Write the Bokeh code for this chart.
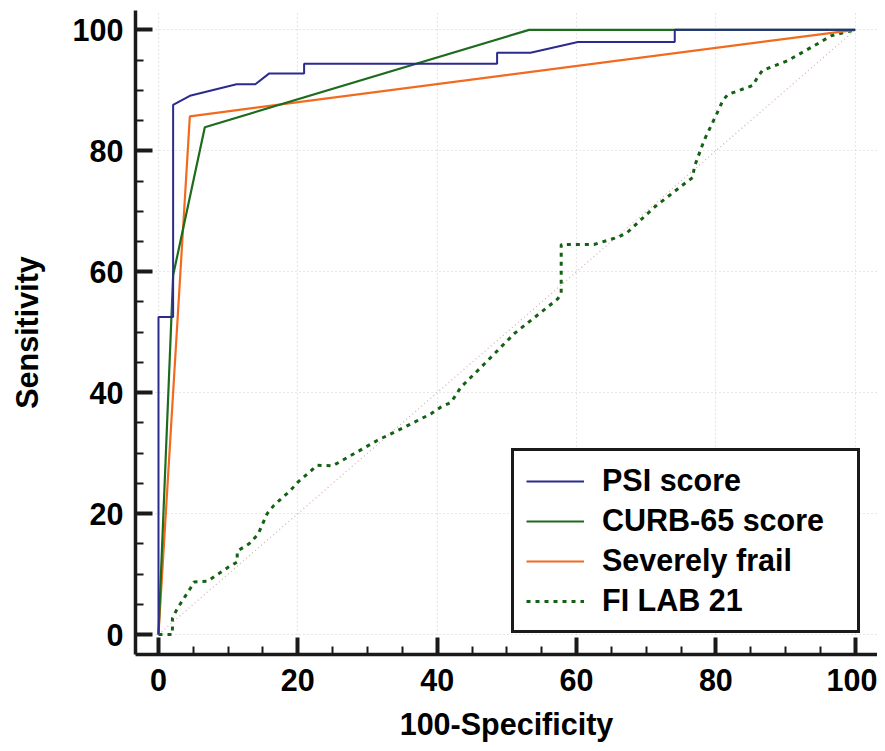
from bokeh.plotting import figure
from bokeh.models import Range1d, FixedTicker, Legend, LegendItem
from bokeh.embed import file_html
from bokeh.resources import INLINE

# ---- data ----
psi_x = [0, 0, 2.1, 2.1, 4.5, 11.2, 13.9, 15.9, 20.9, 20.9, 48.6, 48.6, 53.4, 60.2, 74.1, 74.1, 100]
psi_y = [0, 52.5, 52.5, 87.6, 89.1, 91.0, 91.0, 92.8, 92.8, 94.4, 94.4, 96.2, 96.2, 98.0, 98.0, 100, 100]

curb_x = [0, 2.1, 6.65, 53.2, 100]
curb_y = [0, 59.4, 83.9, 100, 100]

frail_x = [0, 4.5, 100]
frail_y = [0, 85.7, 100]

filab_x = [0, 2.0, 2.0, 2.7, 4.6, 5.1, 7.0, 10.1, 11.3, 11.3, 13.0, 14.3, 15.6, 16.6, 19.0, 20.0,
           22.8, 25.0, 27.6, 31.4, 35.3, 39.1, 40.5, 42.0, 43.4, 46.3, 51.1, 57.3, 57.8, 57.8,
           62.5, 65.9, 67.3, 71.2, 75.2, 76.7, 76.9, 78.3, 80.0, 81.0, 81.7, 85.3, 86.0, 86.7,
           90.3, 94.6, 96.5, 100]
filab_y = [0, 0, 2.7, 4.3, 7.7, 8.7, 8.8, 11.2, 12.0, 13.8, 15.0, 16.6, 20.0, 21.4, 23.9, 25.2,
           28.0, 27.9, 29.6, 32.1, 34.3, 36.5, 37.6, 38.4, 40.9, 44.2, 49.8, 55.5, 56.4, 64.5,
           64.5, 65.7, 66.5, 70.7, 74.3, 75.6, 77.3, 81.7, 85.8, 88.3, 89.3, 90.8, 92.2, 93.3,
           94.9, 97.7, 99.0, 100]

diag_x = [0, 100]
diag_y = [0, 100]

series_labels = ["PSI score", "CURB-65 score", "Severely frail", "FI LAB 21"]
x_title = "100-Specificity"
y_title = "Sensitivity"

major_ticks = [0, 20, 40, 60, 80, 100]
minor_ticks = list(range(0, 101, 5))

FONT = "Liberation Sans"
FS = "30.5px"

p = figure(width=877, height=743, output_backend="svg", toolbar_location=None,
           x_range=Range1d(-3.3, 103.2), y_range=Range1d(-3.3, 103.2),
           min_border_left=135, min_border_top=10, min_border_right=0, min_border_bottom=89)
p.outline_line_color = None
p.background_fill_color = "white"
p.border_fill_color = "white"

for ax in (p.xaxis[0], p.yaxis[0]):
    ax.ticker = FixedTicker(ticks=major_ticks, minor_ticks=minor_ticks)
    ax.axis_line_width = 3.5
    ax.axis_line_color = "#1a1a1a"
    ax.major_tick_in = 17
    ax.major_tick_out = 0
    ax.minor_tick_in = 8
    ax.minor_tick_out = 0
    ax.major_tick_line_width = 4
    ax.major_tick_line_color = "#1a1a1a"
    ax.minor_tick_line_width = 2
    ax.minor_tick_line_color = "#1a1a1a"
    ax.major_label_text_font = FONT
    ax.major_label_text_font_style = "bold"
    ax.major_label_text_font_size = FS
    ax.major_label_text_color = "black"
    ax.axis_label_text_font = FONT
    ax.axis_label_text_font_style = "bold"
    ax.axis_label_text_font_size = FS
    ax.axis_label_text_color = "black"

p.xaxis[0].axis_label = x_title
p.yaxis[0].axis_label = y_title
p.xaxis[0].major_label_standoff = 14
p.yaxis[0].major_label_standoff = 12
p.xaxis[0].axis_label_standoff = 13
p.yaxis[0].axis_label_standoff = 26

for g in (p.xgrid[0], p.ygrid[0]):
    g.ticker = FixedTicker(ticks=major_ticks)
    g.grid_line_color = "#cfcfcf"
    g.grid_line_dash = "1 3"
    g.grid_line_width = 1.2

p.line(diag_x, diag_y, line_color="#d9b3b3", line_dash="1 3", line_width=1.3)

r_fi = p.line(filab_x, filab_y, line_color="#146014", line_width=3, line_dash="4 5")
r_frail = p.line(frail_x, frail_y, line_color="#f26a1e", line_width=2.2)
r_curb = p.line(curb_x, curb_y, line_color="#1d6b1d", line_width=2.2)
r_psi = p.line(psi_x, psi_y, line_color="#2b2b8e", line_width=2)

legend = Legend(items=[
    LegendItem(label=series_labels[0], renderers=[r_psi]),
    LegendItem(label=series_labels[1], renderers=[r_curb]),
    LegendItem(label=series_labels[2], renderers=[r_frail]),
    LegendItem(label=series_labels[3], renderers=[r_fi]),
], location=(376, 21))
legend.margin = 0
legend.padding = 12
legend.spacing = 5
legend.glyph_width = 58
legend.glyph_height = 32
legend.label_height = 32
legend.label_width = 243
legend.label_standoff = 18
legend.label_text_font = FONT
legend.label_text_font_style = "bold"
legend.label_text_font_size = FS
legend.label_text_color = "black"
legend.border_line_color = "#1a1a1a"
legend.border_line_width = 3
legend.border_line_alpha = 1
legend.background_fill_color = "white"
legend.background_fill_alpha = 1
p.add_layout(legend, "center")

open("out.html", "w").write(file_html(p, INLINE))
